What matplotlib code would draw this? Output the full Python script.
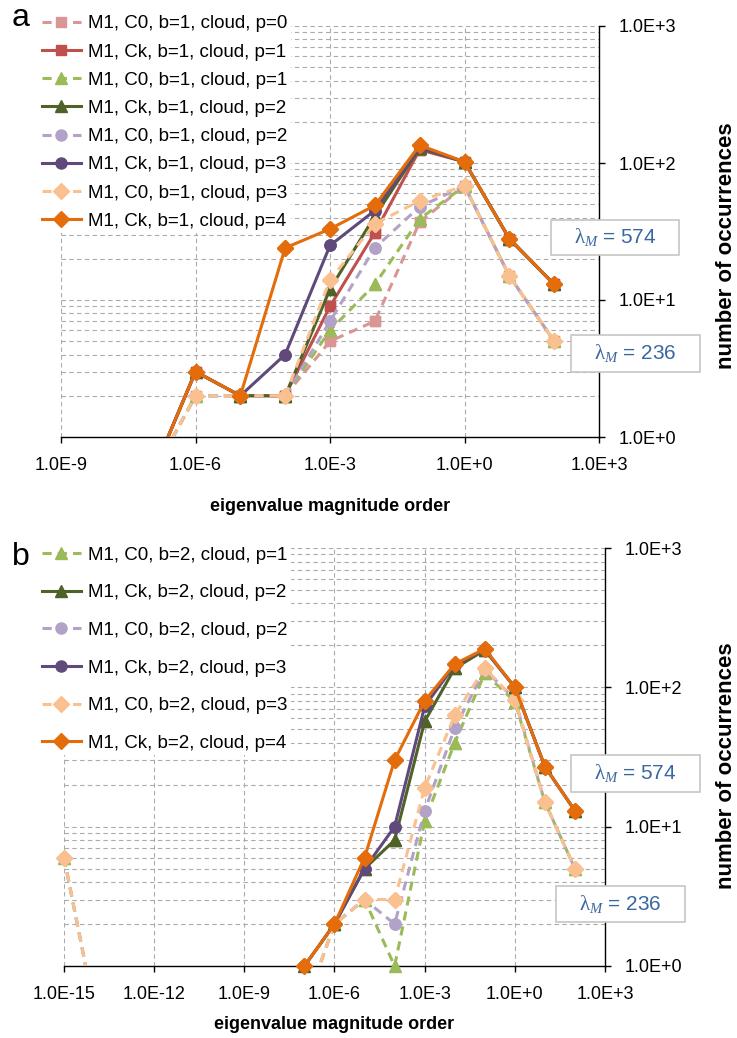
import numpy as np
import matplotlib
matplotlib.use('Agg')
import matplotlib.pyplot as plt
from matplotlib.ticker import FixedLocator, LogLocator, NullFormatter, NullLocator, FuncFormatter
from matplotlib.patches import Rectangle

plt.rcParams['font.family'] = ['Liberation Sans', 'DejaVu Sans']
plt.rcParams['mathtext.fontset'] = 'custom'
plt.rcParams['mathtext.rm'] = 'Liberation Serif'
plt.rcParams['mathtext.it'] = 'Liberation Serif:italic'

W, H = 737, 1038

# panel a: eigenvalue magnitude orders 1e-7 .. 1e2 (0.5 = empty bin, below the axis)
exp_a = np.arange(-7, 3)
a_c0_p0 = [0.5, 2, 2, 2, 5, 7, 37, 68, 15, 5]
a_ck_p1 = [0.5, 3, 2, 2, 9, 31, 125, 102, 28, 13]
a_c0_p1 = [0.5, 2, 2, 2, 6, 13, 39, 68, 15, 5]
a_ck_p2 = [0.5, 3, 2, 2, 12, 41, 128, 102, 28, 13]
a_c0_p2 = [0.5, 2, 2, 2, 7, 24, 48, 68, 15, 5]
a_ck_p3 = [0.5, 3, 2, 4, 25, 45, 130, 102, 28, 13]
a_c0_p3 = [0.5, 2, 2, 2, 14, 36, 53, 68, 15, 5]
a_ck_p4 = [0.5, 3, 2, 24, 33, 49, 135, 102, 28, 13]
labels_a = ['M1, C0, b=1, cloud, p=0', 'M1, Ck, b=1, cloud, p=1',
            'M1, C0, b=1, cloud, p=1', 'M1, Ck, b=1, cloud, p=2',
            'M1, C0, b=1, cloud, p=2', 'M1, Ck, b=1, cloud, p=3',
            'M1, C0, b=1, cloud, p=3', 'M1, Ck, b=1, cloud, p=4']

# panel b: orders 1e-15 .. 1e2
exp_b = np.arange(-15, 3)
b_c0_p1 = [6] + [0.5] * 8 + [2, 3, 1, 11, 40, 126, 79, 15, 5]
b_ck_p2 = [0.5] * 8 + [1, 2, 5, 8, 57, 137, 185, 100, 27, 13]
b_c0_p2 = [6] + [0.5] * 8 + [2, 3, 2, 13, 51, 134, 82, 15, 5]
b_ck_p3 = [0.5] * 8 + [1, 2, 5, 10, 73, 145, 187, 100, 27, 13]
b_c0_p3 = [6] + [0.5] * 8 + [2, 3, 3, 19, 63, 138, 81, 15, 5]
b_ck_p4 = [0.5] * 8 + [1, 2, 6, 30, 80, 147, 189, 100, 27, 13]
labels_b = ['M1, C0, b=2, cloud, p=1', 'M1, Ck, b=2, cloud, p=2',
            'M1, C0, b=2, cloud, p=2', 'M1, Ck, b=2, cloud, p=3',
            'M1, C0, b=2, cloud, p=3', 'M1, Ck, b=2, cloud, p=4']

lambda_max = [574, 236]

# colour, dashed?, marker, size
st = {
    'c0p0': ('#DA9694', True, 's', 7),
    'ckp1': ('#C0504D', False, 's', 7),
    'c0p1': ('#9BBB59', True, '^', 8),
    'ckp2': ('#4F6228', False, '^', 8),
    'c0p2': ('#B3A2C7', True, 'o', 8),
    'ckp3': ('#604A7B', False, 'o', 8),
    'c0p3': ('#FAC090', True, 'D', 8),
    'ckp4': ('#E46C0A', False, 'D', 8),
}
keys_a = ['c0p0', 'ckp1', 'c0p1', 'ckp2', 'c0p2', 'ckp3', 'c0p3', 'ckp4']
keys_b = ['c0p1', 'ckp2', 'c0p2', 'ckp3', 'c0p3', 'ckp4']

GRID = '#ABABAB'
BLUE = '#3A67A0'


def fmt(v, pos):
    return '1.0E%+d' % round(np.log10(v))


def panel(ax, exps, series, keys, labels, xmin):
    x = 10.0 ** exps
    for vals, k, lab in zip(series, keys, labels):
        col, dashed, mk, ms = st[k]
        vals = np.array(vals, dtype=float)
        ls = (0, (3, 2)) if dashed else '-'
        ax.plot(x, vals, linestyle=ls, color=col, lw=2.2, marker=mk, ms=ms,
                mec=col, mfc=col, label=lab, zorder=3)
        ok = vals >= 1
        ax.plot(x[ok], vals[ok], linestyle='none', marker=mk, ms=ms,
                mec=col, mfc=col, clip_on=False, zorder=3)
    ax.set_xscale('log')
    ax.set_yscale('log')
    ax.set_xlim(10.0 ** xmin, 1e3)
    ax.set_ylim(1, 1000)
    ax.xaxis.set_major_locator(FixedLocator(10.0 ** np.arange(xmin, 4, 3)))
    ax.xaxis.set_minor_locator(NullLocator())
    ax.xaxis.set_major_formatter(FuncFormatter(fmt))
    ax.yaxis.set_major_locator(FixedLocator([1, 10, 100, 1000]))
    ax.yaxis.set_minor_locator(LogLocator(base=10, subs=np.arange(2, 10)))
    ax.yaxis.set_major_formatter(FuncFormatter(fmt))
    ax.yaxis.set_minor_formatter(NullFormatter())
    ax.yaxis.tick_right()
    ax.yaxis.set_label_position('right')
    for s in ['left', 'top']:
        ax.spines[s].set_visible(False)
    for s in ['bottom', 'right']:
        ax.spines[s].set_linewidth(1.0)
    ax.tick_params(which='major', direction='out', length=4, width=1.0,
                   labelsize=13)
    ax.tick_params(axis='x', pad=10.5)
    ax.tick_params(axis='y', pad=10)
    ax.tick_params(which='minor', length=0)
    ax.grid(True, axis='x', which='major', color=GRID, ls=(0, (4, 3)), lw=0.8)
    ax.grid(True, axis='y', which='both', color=GRID, ls=(0, (4, 3)), lw=0.8)
    ax.set_axisbelow(True)
    ax.set_xlabel('eigenvalue magnitude order', fontsize=13, fontweight='bold')
    ax.set_ylabel('number of occurrences', fontsize=16, fontweight='bold')


def lam_box(x0, y0, x1, y1, val):
    fig.add_artist(Rectangle((x0 / W, 1 - y1 / H), (x1 - x0) / W, (y1 - y0) / H,
                             transform=fig.transFigure, fc='white',
                             ec='#C6C6C6', lw=1.2, zorder=5))
    fig.text((x0 + x1) / 2 / W, 1 - (y0 + y1) / 2 / H,
             r'$\mathrm{\lambda}_{\mathit{M}}$' + ' = %d' % val, color=BLUE,
             fontsize=15, ha='center', va='center', zorder=6)


def legend(ax, top, spacing):
    h, l = ax.get_legend_handles_labels()
    ax.legend(h, l, loc='upper left', bbox_to_anchor=(38 / W, 1 - top / H),
              bbox_transform=fig.transFigure, borderaxespad=0, borderpad=0.2,
              fontsize=13.5, labelspacing=spacing, handlelength=2.1,
              handletextpad=0.35, numpoints=1, frameon=True, fancybox=False,
              facecolor='white', edgecolor='none', framealpha=1)


fig = plt.figure(figsize=(W / 100, H / 100), dpi=100)

ax_a = fig.add_axes([61 / W, 1 - 437 / H, 538 / W, 411 / H])
panel(ax_a, exp_a, [a_c0_p0, a_ck_p1, a_c0_p1, a_ck_p2, a_c0_p2, a_ck_p3, a_c0_p3, a_ck_p4],
      keys_a, labels_a, -9)
ax_a.xaxis.set_label_coords(0.5, -0.17)
ax_a.xaxis.label.set_va('center')
ax_a.yaxis.set_label_coords((726 - 61) / 538, (437 - 246) / 411)
ax_a.yaxis.label.set_va('center')
legend(ax_a, 11.5, 0.59)

ax_b = fig.add_axes([64 / W, 1 - 966 / H, 541 / W, 418 / H])
panel(ax_b, exp_b, [b_c0_p1, b_ck_p2, b_c0_p2, b_ck_p3, b_c0_p3, b_ck_p4],
      keys_b, labels_b, -15)
ax_b.xaxis.set_label_coords(0.5, -0.141)
ax_b.xaxis.label.set_va('center')
ax_b.yaxis.set_label_coords((726 - 64) / 541, (966 - 766) / 418)
ax_b.yaxis.label.set_va('center')
legend(ax_b, 543, 1.09)

lam_box(551, 220, 679, 255, lambda_max[0])
lam_box(571, 335, 700, 372, lambda_max[1])
lam_box(571, 755, 700, 792, lambda_max[0])
lam_box(556, 886, 685, 922, lambda_max[1])

fig.text(12 / W, 1 - 26 / H, 'a', fontsize=23, va='baseline', ha='left')
fig.text(12 / W, 1 - 565 / H, 'b', fontsize=23, va='baseline', ha='left')

fig.savefig('out.png', dpi=100)
